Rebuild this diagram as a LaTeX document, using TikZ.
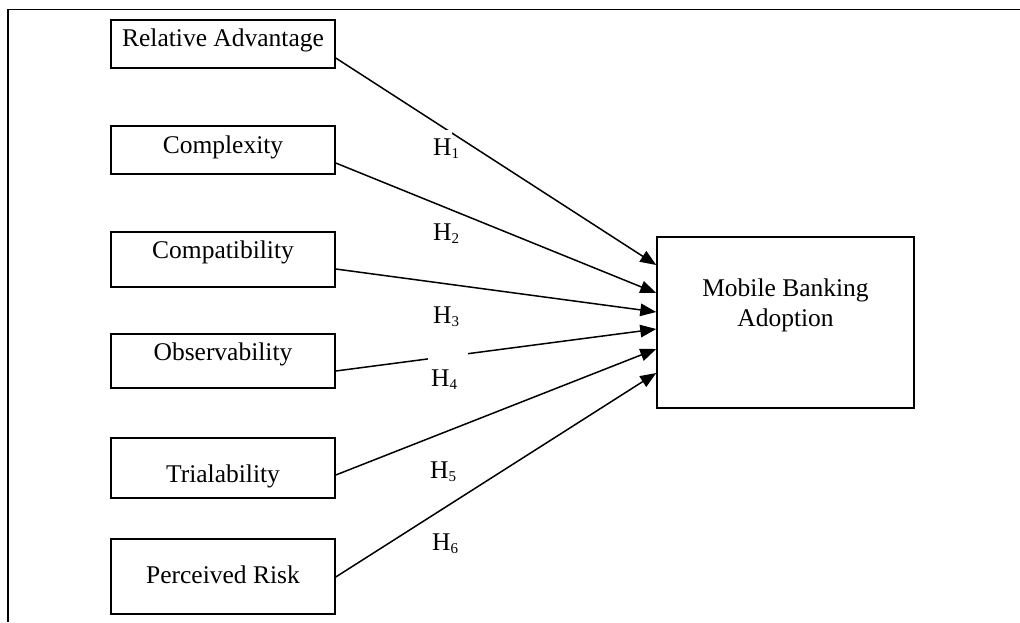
\documentclass[tikz,border=0pt]{standalone}
\usepackage{fontspec}
\setmainfont{Liberation Serif}
\usetikzlibrary{arrows.meta}
\newcommand{\Hs}[1]{H\raisebox{-3pt}{\fontsize{15}{15}\selectfont #1}}
\begin{document}
\begin{tikzpicture}[x=1pt,y=-1pt,
  box/.style={draw,line width=1.5pt,rectangle,inner sep=0pt,minimum width=224pt,font=\fontsize{25.5}{30}\selectfont},
  hyp/.style={anchor=base west,inner sep=0pt,font=\fontsize{25.5}{30}\selectfont},
  link/.style={line width=1.5pt,-{Triangle[length=16pt,width=12.5pt]}},
  frameline/.style={line width=1.8pt}]
\useasboundingbox (0,0) rectangle (1020,622);
\draw[frameline] (8,622) -- (8,9.5) -- (1020,9.5);

\node[box,minimum height=48pt,text height=14pt,text depth=10pt] (ra) at (223,44) {Relative Advantage};
\node[box,minimum height=48pt,text height=15pt,text depth=9pt] (cx) at (223,150) {Complexity};
\node[box,minimum height=55pt,text height=10.5pt,text depth=13.5pt] (cp) at (223,259.5) {Compatibility};
\node[box,minimum height=54pt,text height=11pt,text depth=13pt] (ob) at (223,361) {Observability};
\node[box,minimum height=60pt,text height=30pt,text depth=2pt] (tr) at (223,468) {Trialability};
\node[box,minimum height=75pt,text height=18.5pt,text depth=5.5pt] (pr) at (223,576.5) {Perceived Risk};
\node[box,minimum width=257pt,minimum height=171pt,align=center,text height=33.5pt,text depth=26.5pt] (mba) at (785.5,322.5) {Mobile Banking\\Adoption};

\draw[link] ([yshift=-14pt]ra.east) -- ([yshift=57.5pt]mba.west);
\draw[link] ([yshift=-13pt]cx.east) -- ([yshift=29.5pt]mba.west);
\draw[link] ([yshift=-9.5pt]cp.east) -- ([yshift=10.5pt]mba.west);
\draw[link] ([yshift=-10pt]ob.east) -- ([yshift=-6.5pt]mba.west);
\draw[link] ([yshift=-7pt]tr.east) -- ([yshift=-26.5pt]mba.west);
\draw[link] ([yshift=-0.5pt]pr.east) -- ([yshift=-50.5pt]mba.west);

\fill[white] (415,130) rectangle (452,165);
\fill[white] (428,350) rectangle (468,395);

\node[hyp] (h1) at (433,155) {\Hs{1}};
\node[hyp] (h2) at (433,240) {\Hs{2}};
\node[hyp] (h3) at (433,323) {\Hs{3}};
\node[hyp] (h4) at (431,386) {\Hs{4}};
\node[hyp] (h5) at (430,478) {\Hs{5}};
\node[hyp] (h6) at (432,550) {\Hs{6}};
\end{tikzpicture}
\end{document}
